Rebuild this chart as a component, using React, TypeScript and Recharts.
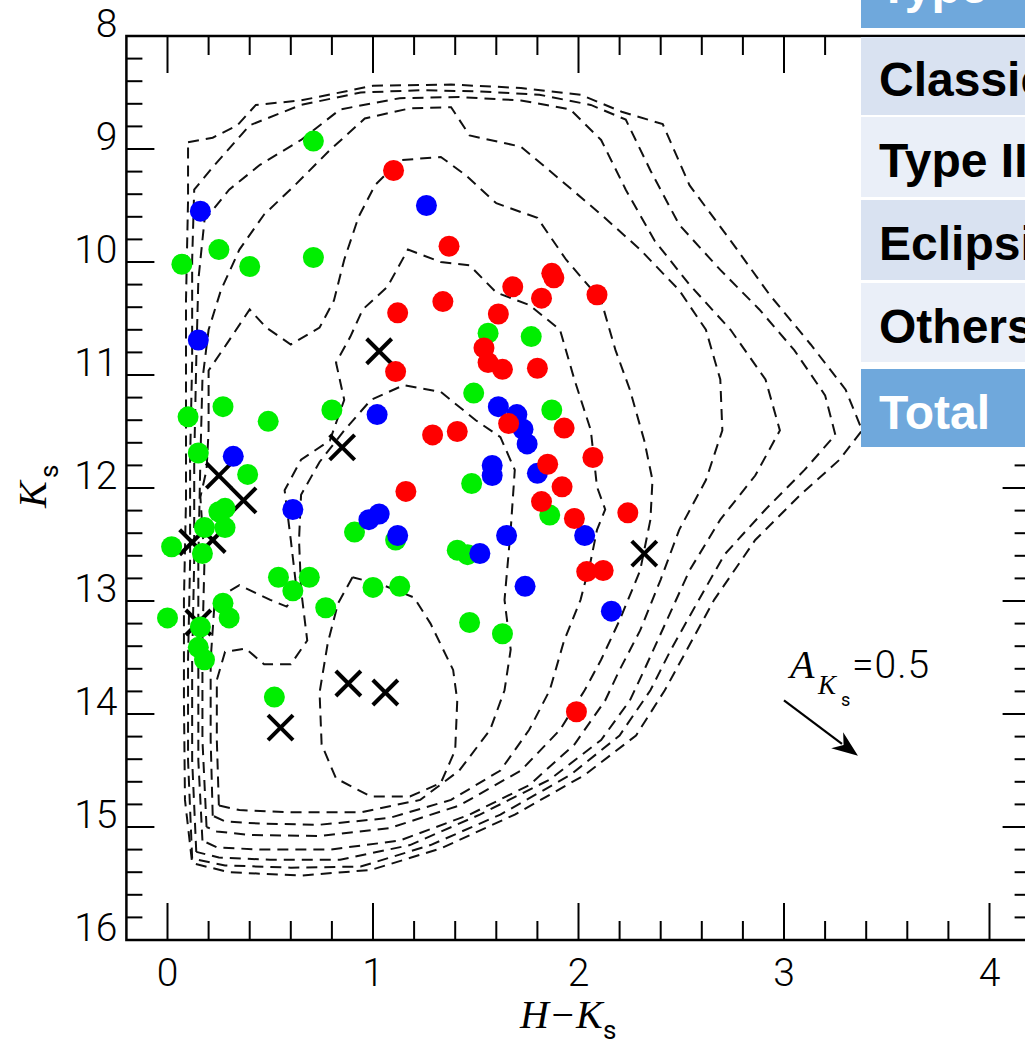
import React from "react";
import { ScatterChart, Scatter, XAxis, YAxis, ReferenceArea, ReferenceLine } from "recharts";

// tick positions
const X_TICKS = [0, 0.2, 0.4, 0.6, 0.8, 1, 1.2, 1.4, 1.6, 1.8, 2, 2.2, 2.4, 2.6, 2.8, 3, 3.2, 3.4, 3.6, 3.8, 4];
const Y_TICKS = [
  8, 8.2, 8.4, 8.6, 8.8, 9, 9.2, 9.4, 9.6, 9.8, 10, 10.2, 10.4, 10.6, 10.8, 11, 11.2, 11.4, 11.6, 11.8,
  12, 12.2, 12.4, 12.6, 12.8, 13, 13.2, 13.4, 13.6, 13.8, 14, 14.2, 14.4, 14.6, 14.8, 15, 15.2, 15.4, 15.6, 15.8, 16,
];

// variable stars (H-Ks, Ks)
const GREEN = [
  { x: 0.71, y: 8.93 }, { x: 0.25, y: 9.89 }, { x: 0.07, y: 10.02 }, { x: 0.4, y: 10.04 }, { x: 0.71, y: 9.96 },
  { x: 1.56, y: 10.63 }, { x: 1.77, y: 10.66 }, { x: 0.1, y: 11.37 }, { x: 0.27, y: 11.28 }, { x: 0.49, y: 11.41 },
  { x: 0.8, y: 11.31 }, { x: 1.49, y: 11.16 }, { x: 1.87, y: 11.31 }, { x: 0.15, y: 11.69 }, { x: 0.39, y: 11.88 },
  { x: 0.28, y: 12.18 }, { x: 0.25, y: 12.21 }, { x: 0.18, y: 12.35 }, { x: 0.28, y: 12.35 }, { x: 0.02, y: 12.52 },
  { x: 0.17, y: 12.58 }, { x: 0.91, y: 12.39 }, { x: 1.11, y: 12.46 }, { x: 1.48, y: 11.96 }, { x: 1.86, y: 12.24 },
  { x: 1.41, y: 12.55 }, { x: 1.46, y: 12.59 }, { x: 0.54, y: 12.79 }, { x: 0.61, y: 12.91 }, { x: 0.69, y: 12.79 },
  { x: 0.77, y: 13.06 }, { x: 1.0, y: 12.88 }, { x: 1.13, y: 12.87 }, { x: 1.47, y: 13.19 }, { x: 1.63, y: 13.29 },
  { x: 0.0, y: 13.15 }, { x: 0.27, y: 13.02 }, { x: 0.3, y: 13.15 }, { x: 0.16, y: 13.23 }, { x: 0.15, y: 13.41 },
  { x: 0.18, y: 13.52 }, { x: 0.52, y: 13.85 },
];

const BLUE = [
  { x: 0.16, y: 9.55 }, { x: 0.15, y: 10.69 }, { x: 1.26, y: 9.5 }, { x: 1.02, y: 11.35 }, { x: 0.32, y: 11.72 },
  { x: 0.61, y: 12.19 }, { x: 0.98, y: 12.28 }, { x: 1.03, y: 12.23 }, { x: 1.12, y: 12.42 }, { x: 1.61, y: 11.28 },
  { x: 1.7, y: 11.35 }, { x: 1.73, y: 11.48 }, { x: 1.75, y: 11.61 }, { x: 1.58, y: 11.8 }, { x: 1.58, y: 11.89 },
  { x: 1.8, y: 11.87 }, { x: 2.03, y: 12.42 }, { x: 1.65, y: 12.42 }, { x: 1.52, y: 12.58 }, { x: 1.74, y: 12.87 },
  { x: 2.16, y: 13.09 },
];

const RED = [
  { x: 1.1, y: 9.19 }, { x: 1.37, y: 9.86 }, { x: 1.87, y: 10.1 }, { x: 1.88, y: 10.14 }, { x: 1.68, y: 10.22 },
  { x: 1.82, y: 10.32 }, { x: 2.09, y: 10.29 }, { x: 1.34, y: 10.35 }, { x: 1.12, y: 10.45 }, { x: 1.61, y: 10.46 },
  { x: 1.54, y: 10.76 }, { x: 1.56, y: 10.89 }, { x: 1.63, y: 10.95 }, { x: 1.8, y: 10.94 }, { x: 1.11, y: 10.97 },
  { x: 1.66, y: 11.43 }, { x: 1.29, y: 11.53 }, { x: 1.41, y: 11.5 }, { x: 1.93, y: 11.47 }, { x: 2.07, y: 11.73 },
  { x: 1.85, y: 11.79 }, { x: 1.92, y: 11.99 }, { x: 1.82, y: 12.12 }, { x: 1.16, y: 12.03 }, { x: 1.98, y: 12.27 },
  { x: 2.24, y: 12.22 }, { x: 2.04, y: 12.74 }, { x: 2.12, y: 12.73 }, { x: 1.99, y: 13.98 },
];

const CROSSES = [
  { x: 1.03, y: 10.79 }, { x: 0.85, y: 11.64 }, { x: 0.25, y: 11.89 }, { x: 0.37, y: 12.11 }, { x: 0.12, y: 12.48 },
  { x: 0.22, y: 12.46 }, { x: 0.15, y: 13.19 }, { x: 0.55, y: 14.12 }, { x: 0.88, y: 13.73 }, { x: 1.06, y: 13.81 },
  { x: 2.32, y: 12.58 },
];

// density contours of field stars, innermost last
const CONTOUR_I = [[0.9,12.79],[0.83,13.02],[0.78,13.37],[0.74,13.81],[0.75,14.27],[0.82,14.57],[0.99,14.73],[1.18,14.73],[1.33,14.61],[1.4,14.32],[1.41,13.88],[1.39,13.61],[1.28,13.2],[1.2,12.97],[1.05,12.86],[0.9,12.79]];
const CONTOUR_A = [[0.25,14.81],[0.24,14.23],[0.24,13.7],[0.28,13.45],[0.38,13.42],[0.47,13.56],[0.6,13.56],[0.68,13.35],[0.65,12.9],[0.64,12.46],[0.65,12.06],[0.74,11.77],[0.86,11.49],[0.99,11.22],[1.15,11.09],[1.33,11.15],[1.5,11.4],[1.62,11.55],[1.69,11.84],[1.67,12.37],[1.64,12.99],[1.67,13.43],[1.64,13.79],[1.57,14.14],[1.42,14.5],[1.23,14.76],[0.94,14.87],[0.6,14.87],[0.35,14.85],[0.25,14.81]];
const CONTOUR_B = [[0.22,14.9],[0.21,14.23],[0.21,13.52],[0.23,12.99],[0.35,12.86],[0.5,12.99],[0.58,13.05],[0.63,12.93],[0.6,12.46],[0.57,12.02],[0.65,11.75],[0.79,11.58],[0.86,11.22],[0.82,10.89],[0.89,10.66],[0.95,10.42],[1.07,10.22],[1.17,9.89],[1.33,10.0],[1.47,10.03],[1.6,10.27],[1.76,10.38],[1.91,10.6],[1.98,11.04],[2.06,11.49],[2.09,11.99],[2.13,12.19],[2.09,12.37],[2.06,12.64],[2.01,12.99],[1.93,13.35],[1.86,13.79],[1.76,14.14],[1.62,14.5],[1.38,14.76],[1.08,14.92],[0.74,14.98],[0.45,14.97],[0.28,14.95],[0.22,14.9]];
const CONTOUR_C = [[0.19,15.0],[0.17,14.23],[0.17,13.35],[0.18,12.64],[0.16,12.08],[0.19,11.84],[0.2,11.49],[0.2,10.96],[0.29,10.72],[0.4,10.42],[0.48,10.58],[0.6,10.73],[0.74,10.58],[0.81,10.34],[0.86,9.98],[0.93,9.6],[1.01,9.32],[1.13,9.1],[1.33,9.07],[1.45,9.23],[1.6,9.48],[1.8,9.61],[1.94,9.98],[2.11,10.34],[2.18,10.78],[2.25,11.13],[2.32,11.58],[2.36,11.93],[2.35,12.28],[2.3,12.73],[2.2,13.17],[2.11,13.52],[2.03,13.79],[1.91,14.14],[1.72,14.5],[1.42,14.81],[1.08,15.01],[0.74,15.08],[0.4,15.07],[0.24,15.04],[0.19,15.0]];
const CONTOUR_D = [[0.17,15.12],[0.15,14.41],[0.15,13.52],[0.15,12.64],[0.16,11.75],[0.17,11.04],[0.2,10.6],[0.26,10.25],[0.35,9.89],[0.47,9.58],[0.62,9.32],[0.79,9.01],[0.96,8.73],[1.18,8.64],[1.38,8.63],[1.47,8.88],[1.72,8.98],[1.91,9.27],[2.11,9.58],[2.3,9.89],[2.49,10.25],[2.62,10.6],[2.69,11.04],[2.7,11.49],[2.62,11.93],[2.49,12.37],[2.4,12.81],[2.3,13.26],[2.2,13.61],[2.13,13.88],[1.98,14.27],[1.76,14.63],[1.47,14.89],[1.13,15.12],[0.79,15.2],[0.45,15.2],[0.24,15.18],[0.17,15.12]];
const CONTOUR_E = [[0.14,15.22],[0.12,14.41],[0.12,13.52],[0.13,12.64],[0.13,11.75],[0.14,10.87],[0.15,10.16],[0.18,9.63],[0.3,9.36],[0.45,9.14],[0.65,8.92],[0.84,8.65],[1.13,8.55],[1.42,8.54],[1.72,8.57],[1.96,8.65],[2.11,8.92],[2.23,9.36],[2.37,9.81],[2.54,10.2],[2.74,10.6],[2.91,11.04],[2.98,11.49],[2.86,11.89],[2.69,12.28],[2.54,12.73],[2.42,13.21],[2.32,13.61],[2.25,13.88],[2.11,14.23],[1.86,14.58],[1.52,14.89],[1.18,15.16],[0.84,15.29],[0.5,15.29],[0.25,15.27],[0.14,15.22]];
const CONTOUR_F = [[0.12,15.28],[0.1,14.41],[0.1,13.52],[0.11,12.64],[0.11,11.75],[0.12,10.87],[0.12,9.98],[0.13,9.36],[0.23,9.14],[0.4,8.79],[0.65,8.61],[0.94,8.5],[1.23,8.48],[1.52,8.49],[1.81,8.52],[2.06,8.61],[2.23,8.74],[2.35,9.19],[2.49,9.67],[2.69,10.07],[2.88,10.42],[3.05,10.78],[3.2,11.18],[3.25,11.53],[3.1,11.84],[2.91,12.19],[2.71,12.59],[2.57,13.04],[2.45,13.43],[2.35,13.79],[2.2,14.19],[1.96,14.54],[1.62,14.89],[1.28,15.16],[0.94,15.35],[0.6,15.36],[0.28,15.34],[0.12,15.28]];
const CONTOUR_G = [[0.1,8.94],[0.22,8.9],[0.34,8.79],[0.43,8.61],[0.65,8.57],[1.0,8.44],[1.38,8.43],[1.72,8.46],[2.01,8.52],[2.21,8.67],[2.41,8.78],[2.54,9.32],[2.74,9.81],[2.93,10.29],[3.13,10.73],[3.3,11.13],[3.38,11.49],[3.27,11.75],[3.08,12.06],[2.86,12.46],[2.66,12.99],[2.54,13.39],[2.42,13.79],[2.28,14.19],[2.03,14.54],[1.69,14.89],[1.33,15.19],[0.99,15.38],[0.65,15.43],[0.3,15.4],[0.12,15.32],[0.085,14.76],[0.08,13.88],[0.08,12.99],[0.09,12.11],[0.09,11.22],[0.09,10.34],[0.1,9.45],[0.1,8.94]];

const CONTOURS = [CONTOUR_G, CONTOUR_F, CONTOUR_E, CONTOUR_D, CONTOUR_C, CONTOUR_B, CONTOUR_A, CONTOUR_I];

// extinction vector
const ARROW_FROM = { x: 3.0, y: 13.88 };
const ARROW_TO = { x: 3.36, y: 14.37 };

const TABLE_ROWS = ["Classical", "Type II", "Eclipsing", "Others"];

const CHART_W = 1100;
const CHART_H = 1047;
const PLOT_W = 904.2;
const PLOT_H = 904;
const NUM_FONT = "Roboto, 'Liberation Sans', sans-serif";

const isMajor = (v: number) => Math.abs(v - Math.round(v)) < 1e-6;

const XTick = (props: any) => {
  const { x, y, payload } = props;
  const v = payload.value;
  const len = isMajor(v) ? 37 : 19;
  return (
    <g>
      <line x1={x} x2={x} y1={y} y2={y - len} stroke="#000" strokeWidth={2} />
      <line x1={x} x2={x} y1={y - PLOT_H} y2={y - PLOT_H + len} stroke="#000" strokeWidth={2} />
      {isMajor(v) && (
        <text x={x} y={y + 46} textAnchor="middle" fontFamily={NUM_FONT} fontWeight={300} fontSize={39} fill="#000">
          {Math.round(v)}
        </text>
      )}
    </g>
  );
};

const YTick = (props: any) => {
  const { x, y, payload } = props;
  const v = payload.value;
  const len = isMajor(v) ? 28 : 16;
  return (
    <g>
      <line x1={x} x2={x + len} y1={y} y2={y} stroke="#000" strokeWidth={2} />
      <line x1={x + PLOT_W} x2={x + PLOT_W - len} y1={y} y2={y} stroke="#000" strokeWidth={2} />
      {isMajor(v) && (
        <text x={x - 9} y={y + 1} textAnchor="end" fontFamily={NUM_FONT} fontWeight={300} fontSize={39} fill="#000">
          {Math.round(v)}
        </text>
      )}
    </g>
  );
};

const dot = (color: string) => (props: any) => <circle cx={props.cx} cy={props.cy} r={10.5} fill={color} />;

const Cross = (props: any) => {
  const { cx, cy } = props;
  const h = 12.5;
  return (
    <g stroke="#000" strokeWidth={4}>
      <line x1={cx - h} y1={cy - h} x2={cx + h} y2={cy + h} />
      <line x1={cx - h} y1={cy + h} x2={cx + h} y2={cy - h} />
    </g>
  );
};

const Hidden = () => <g />;

const ArrowShape = (props: any) => {
  const { x1, y1, x2, y2 } = props;
  const ang = Math.atan2(y2 - y1, x2 - x1);
  const L = 26;
  const W = 10;
  const bx = x2 - L * Math.cos(ang);
  const by = y2 - L * Math.sin(ang);
  const px = -Math.sin(ang) * W;
  const py = Math.cos(ang) * W;
  return (
    <g>
      <line x1={x1} y1={y1} x2={bx + 6 * Math.cos(ang)} y2={by + 6 * Math.sin(ang)} stroke="#000" strokeWidth={2.2} />
      <polygon points={`${x2},${y2} ${bx + px},${by + py} ${bx + 8 * Math.cos(ang)},${by + 8 * Math.sin(ang)} ${bx - px},${by - py}`} fill="#000" />
      <text x={x1 + 6} y={y1 - 22} fontFamily="'Liberation Serif', serif" fontStyle="italic" fontSize={40} fill="#000">A</text>
      <text x={x1 + 34} y={y1 - 6} fontFamily="'Liberation Serif', serif" fontStyle="italic" fontSize={27} fill="#000">K</text>
      <text x={x1 + 57} y={y1 + 6} fontFamily={NUM_FONT} fontSize={18} fill="#000">s</text>
      <text x={x1 + 68} y={y1 - 22} fontFamily={NUM_FONT} fontWeight={300} fontSize={39} letterSpacing={1} fill="#000">=0.5</text>
    </g>
  );
};

const rowStyle = (top: number, height: number, bg: string, color: string): React.CSSProperties => ({
  position: "absolute",
  left: 861,
  top,
  width: 300,
  height,
  background: bg,
  color,
  fontFamily: "'Liberation Sans', Arial, sans-serif",
  fontWeight: 700,
  fontSize: 48,
  lineHeight: `${height}px`,
  paddingLeft: 18,
  boxSizing: "border-box",
  whiteSpace: "nowrap",
});

const ROW_TOPS = [37, 117, 200, 283];
const ROW_HEIGHTS = [78, 80, 80, 79];
const ROW_BG = ["#d9e2f1", "#eaeff8", "#d9e2f1", "#eaeff8"];

export default function App() {
  return (
    <div style={{ position: "absolute", left: 0, top: 0, width: 1025, height: 1047, overflow: "hidden", background: "#fff" }}>
      <ScatterChart width={CHART_W} height={CHART_H} margin={{ top: 36, right: 69.4, bottom: 47, left: 66.4 }}>
        <XAxis
          type="number"
          dataKey="x"
          domain={[-0.2, 4.2]}
          allowDataOverflow
          ticks={X_TICKS}
          interval={0}
          tick={<XTick />}
          tickLine={false}
          axisLine={false}
          tickSize={0}
          tickMargin={0}
          height={60}
        />
        <YAxis
          type="number"
          dataKey="y"
          domain={[8, 16]}
          reversed
          allowDataOverflow
          ticks={Y_TICKS}
          interval={0}
          tick={<YTick />}
          tickLine={false}
          axisLine={false}
          tickSize={0}
          tickMargin={0}
          width={60}
        />
        {CONTOURS.map((c, i) => (
          <Scatter
            key={`contour-${i}`}
            data={c.map(([x, y]) => ({ x, y }))}
            line={{ stroke: "#111", strokeWidth: 2, strokeDasharray: "11 7" }}
            lineType="joint"
            shape={<Hidden />}
            isAnimationActive={false}
          />
        ))}
        <Scatter data={CROSSES} shape={Cross} isAnimationActive={false} />
        <Scatter data={GREEN} shape={dot("#00ee00")} isAnimationActive={false} />
        <Scatter data={BLUE} shape={dot("#0000ff")} isAnimationActive={false} />
        <Scatter data={RED} shape={dot("#ff0000")} isAnimationActive={false} />
        <ReferenceArea x1={-0.2} x2={4.2} y1={8} y2={16} fill="none" fillOpacity={0} stroke="#000" strokeWidth={2.5} />
        <ReferenceLine segment={[ARROW_FROM, ARROW_TO]} shape={ArrowShape} />
      </ScatterChart>

      <svg width={1025} height={1047} style={{ position: "absolute", left: 0, top: 0, pointerEvents: "none" }}>
        <text x={520} y={1028} fontFamily="'Liberation Serif', serif" fontStyle="italic" fontSize={40} fill="#000">
          H−K
        </text>
        <text x={603} y={1039} fontFamily={NUM_FONT} fontSize={26} fill="#000">s</text>
        <g transform="rotate(-90 46 508)">
          <text x={46} y={508} fontFamily="'Liberation Serif', serif" fontStyle="italic" fontSize={40} fill="#000">K</text>
          <text x={76} y={520} fontFamily={NUM_FONT} fontSize={26} fill="#000">s</text>
        </g>
      </svg>

      <div style={{ ...rowStyle(-54, 82, "#6fa8dc", "#fff") }}>Type</div>
      {TABLE_ROWS.map((name, i) => (
        <div key={name} style={rowStyle(ROW_TOPS[i], ROW_HEIGHTS[i], ROW_BG[i], "#000")}>
          <span style={{ position: "relative", top: 4 }}>{name}</span>
        </div>
      ))}
      <div style={rowStyle(369, 78, "#6fa8dc", "#fff")}>
        <span style={{ position: "relative", top: 5 }}>Total</span>
      </div>
    </div>
  );
}
